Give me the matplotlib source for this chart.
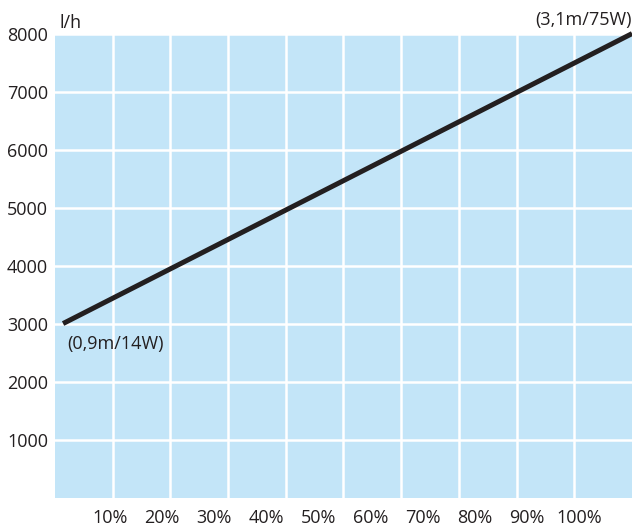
import matplotlib
matplotlib.use("Agg")
import matplotlib.pyplot as plt

BLUE, INK = "#c3e5f8", "#231f20"

# pump curve end points (x in % of label scale, y in l/h)
line_pct = [1.0, 110.2]
line_lh = [3000, 8000]
end_labels = ["(0,9m/14W)", "(3,1m/75W)"]

x_ticks = [10, 20, 30, 40, 50, 60, 70, 80, 90, 100]
y_ticks = [1000, 2000, 3000, 4000, 5000, 6000, 7000, 8000]

# the grid has 10 equal cells; the % labels sit on a slightly tighter scale
def pct_to_grid(p):
    return 0.05 + 0.0903 * p


def grid_to_pct(g):
    return (g - 0.05) / 0.0903


FS = 13
plt.rcParams.update({"font.family": ["Open Sans", "DejaVu Sans"], "font.size": FS})
fig = plt.figure(figsize=(6.32, 5.29), dpi=100)
ax = fig.add_axes([0.087, 0.0595, 0.913, 0.877])
ax.set_facecolor(BLUE)
for s in ax.spines.values():
    s.set_visible(False)

ax.set_xlim(0, 10)
ax.set_ylim(0, 8000)
ax.set_xticks(range(1, 10))
ax.set_yticks(y_ticks)
ax.set_yticklabels([str(v) for v in y_ticks])
ax.tick_params(axis="x", length=0, labelbottom=False)
ax.tick_params(axis="y", length=0, pad=5, labelcolor=INK, labelsize=FS)
ax.grid(color="white", linewidth=1.8)
ax.set_axisbelow(True)

sec = ax.secondary_xaxis("bottom", functions=(grid_to_pct, pct_to_grid))
sec.set_xticks(x_ticks)
sec.set_xticklabels([f"{v}%" for v in x_ticks])
sec.tick_params(length=0, pad=8, labelcolor=INK, labelsize=FS)
for s in sec.spines.values():
    s.set_visible(False)

gx = [pct_to_grid(p) for p in line_pct]
ax.plot(gx, line_lh, color=INK, linewidth=3.6, solid_capstyle="butt", clip_on=False)

ax.annotate(end_labels[0], (gx[0], line_lh[0]), xytext=(3, -8), textcoords="offset points",
            ha="left", va="top", color=INK, fontsize=FS)
ax.annotate(end_labels[1], (gx[1], line_lh[1]), xytext=(0, 3), textcoords="offset points",
            ha="right", va="bottom", color=INK, fontsize=FS, annotation_clip=False)
ax.annotate("l/h", (0, 8000), xytext=(3, 1), textcoords="offset points",
            ha="left", va="bottom", color=INK, fontsize=FS, annotation_clip=False)

fig.savefig("out.png", dpi=100)
